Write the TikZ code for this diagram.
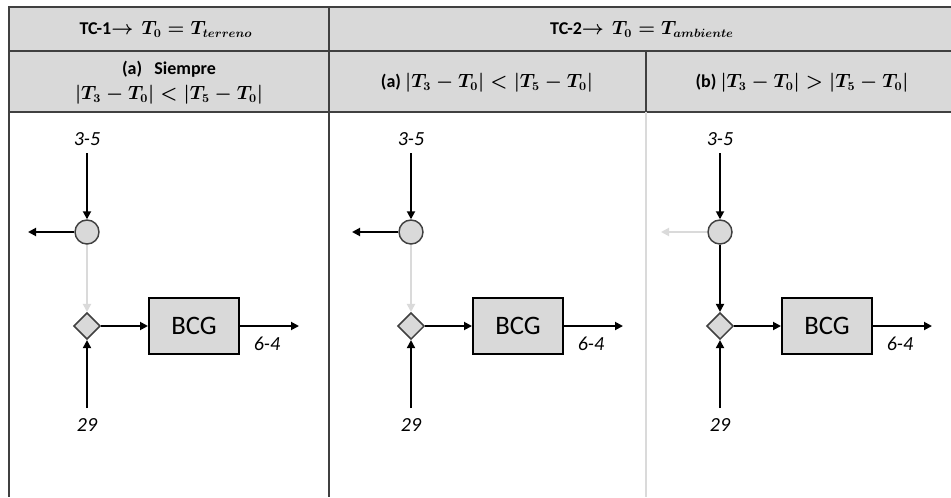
\documentclass[tikz,border=0pt]{standalone}
\usepackage{amsmath}
\usepackage{fontspec}
\setmainfont{Carlito}
\usetikzlibrary{arrows.meta,shapes.geometric}
\definecolor{hdrfill}{HTML}{D9D9D9}
\definecolor{framecol}{HTML}{404040}
\definecolor{lightline}{HTML}{DADADA}
\tikzset{
  flow/.style={line width=1.4pt,-{Triangle[length=6pt,width=6pt]}},
  flowdark/.style={flow,draw=black},
  flowlight/.style={flow,draw=lightline},
  splitter/.style={circle,draw=framecol,fill=hdrfill,line width=1.1pt,minimum size=18pt,inner sep=0pt},
  mixer/.style={diamond,aspect=1,draw=framecol,fill=hdrfill,line width=1.1pt,minimum size=20pt,inner sep=0pt},
  bcgbox/.style={rectangle,draw=black,fill=hdrfill,line width=1.5pt,minimum width=67.5pt,minimum height=42pt,inner sep=0pt,font=\fontsize{20}{24}\selectfont},
  flowlabel/.style={font=\fontsize{15}{18}\selectfont\itshape,inner sep=0pt},
  hdrtext/.style={font=\fontsize{13.5}{16}\selectfont\bfseries\boldmath,align=center,inner sep=0pt},
  frameline/.style={draw=framecol,line width=1.6pt},
}
\newcommand\mypanel[4]{%
  \begin{scope}[shift={(#1,0)}]
    \node[flowlabel] (lt#2) at (0,139) {3-5};
    \coordinate (st#2) at (0,153);
    \node[splitter] (c#2) at (0,232) {};
    \coordinate (le#2) at (-59,232);
    \node[mixer] (d#2) at (0,326) {};
    \node[bcgbox] (b#2) at (107,326) {BCG};
    \coordinate (oe#2) at (212,326);
    \node[flowlabel] (lo#2) at (180,344) {6-4};
    \coordinate (sb#2) at (0,408);
    \node[flowlabel] (lb#2) at (0,425) {29};
    \draw[flowdark] (st#2) -- (c#2);
    \draw[#3] (c#2) -- (le#2);
    \draw[#4] (c#2) -- (d#2);
    \draw[flowdark] (sb#2) -- (d#2);
    \draw[flowdark] (d#2) -- (b#2);
    \draw[flowdark] (b#2) -- (oe#2);
  \end{scope}}
\begin{document}
\begin{tikzpicture}[x=0.75pt,y=-0.75pt]
\useasboundingbox (0,0) rectangle (951,497);
\fill[white] (0,0) rectangle (951,497);
% header
\fill[hdrfill] (9,7) rectangle (951,112);
\draw[frameline] (9,7) -- (951,7);
\draw[frameline] (9,51) -- (951,51);
\draw[frameline] (9,112) -- (951,112);
\draw[draw=framecol,line width=2pt] (9,6) -- (9,497);
\draw[frameline,line width=1.4pt] (329,7) -- (329,497);
\draw[frameline] (646,51) -- (646,112);
\draw[draw=lightline,line width=1.6pt] (646,112) -- (646,497);
\node[hdrtext] (h1) at (166,29) {TC-1$\rightarrow$\ \ $T_0 = T_{terreno}$};
\node[hdrtext] (h2) at (642,29) {TC-2$\rightarrow$\ \ $T_0 = T_{ambiente}$};
\node[hdrtext] (h3) at (169,83) {(a)\ \ \ Siempre\\[3pt] $|T_3 - T_0| < |T_5 - T_0|$};
\node[hdrtext] (h4) at (487,83) {(a) $|T_3 - T_0| < |T_5 - T_0|$};
\node[hdrtext] (h5) at (802,83) {(b) $|T_3 - T_0| > |T_5 - T_0|$};
% panels
\mypanel{87}{a}{flowdark}{flowlight}
\mypanel{411}{b}{flowdark}{flowlight}
\mypanel{720}{c}{flowlight}{flowdark}
\end{tikzpicture}
\end{document}
